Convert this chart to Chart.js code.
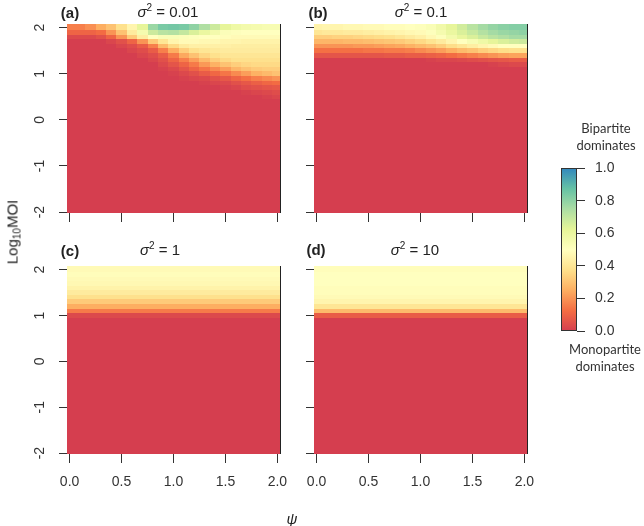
<!DOCTYPE html>
<html>
<head>
<meta charset="utf-8">
<script src="https://cdn.jsdelivr.net/npm/chart.js@4.4.0/dist/chart.umd.min.js"></script>
<style>
  body { margin: 0; background: #fff; width: 644px; height: 526px; position: relative; overflow: hidden;
         font-family: "Liberation Sans", Arial, Helvetica, sans-serif; color: #222; }
  canvas { position: absolute; }
  .t { position: absolute; white-space: nowrap; line-height: 1; transform: translate(-50%, -50%); font-size: 15px; }
  .t b { font-weight: bold; }
  .t sup { font-size: 10px; vertical-align: 6px; line-height: 0; }
  .t sub { font-size: 10px; vertical-align: -3px; line-height: 0; }
  .cb { font-family: Lato, "Open Sans", sans-serif; font-size: 13px; color: #333; }
</style>
</head>
<body>
<canvas id="pa" width="300" height="236" style="left:0;top:0"></canvas>
<canvas id="pb" width="300" height="236" style="left:247px;top:0"></canvas>
<canvas id="pc" width="300" height="252" style="left:0;top:242px"></canvas>
<canvas id="pd" width="300" height="252" style="left:247px;top:242px"></canvas>
<canvas id="bar" width="104" height="200" style="left:540px;top:150px"></canvas>

<div class="t" style="left:70px;top:12px"><b>(a)</b></div>
<div class="t" style="left:168px;top:11px"><i>σ</i><sup>2</sup> = 0.01</div>
<div class="t" style="left:318px;top:12px"><b>(b)</b></div>
<div class="t" style="left:421px;top:11px"><i>σ</i><sup>2</sup> = 0.1</div>
<div class="t" style="left:70px;top:250px"><b>(c)</b></div>
<div class="t" style="left:160px;top:249px"><i>σ</i><sup>2</sup> = 1</div>
<div class="t" style="left:316px;top:249px"><b>(d)</b></div>
<div class="t" style="left:415px;top:249px"><i>σ</i><sup>2</sup> = 10</div>
<div class="t" style="left:12px;top:232px;transform:translate(-50%,-50%) rotate(-90deg)">Log<sub>10</sub>MOI</div>
<div class="t" style="left:292px;top:518px"><i>ψ</i></div>
<div class="t cb" style="left:606px;top:128px">Bipartite</div>
<div class="t cb" style="left:606px;top:145px">dominates</div>
<div class="t cb" style="left:605px;top:349px">Monopartite</div>
<div class="t cb" style="left:605px;top:366px">dominates</div>

<script>
// ψ grid (columns) and tick labels
const psi = [0, 0.1, 0.2, 0.3, 0.4, 0.5, 0.6, 0.7, 0.8, 0.9, 1.0, 1.1, 1.2, 1.3, 1.4, 1.5, 1.6, 1.7, 1.8, 1.9, 2.0];
const psiTicks = [0, 0.5, 1, 1.5, 2];
const moiTicks = [-2, -1, 0, 1, 2];
const barTicks = [0, 0.2, 0.4, 0.6, 0.8, 1.0];

// Log10 MOI rows with something other than "monopartite dominates"; every row below is 0
const rowsA = [2.0, 1.9, 1.8, 1.7, 1.6, 1.5, 1.4, 1.3, 1.2, 1.1, 1.0, 0.9, 0.8, 0.7, 0.6, 0.5];
const valuesA = [
  [.16,.16,.19,.25,.30,.38,.46,.62,.78,.84,.85,.84,.80,.74,.68,.62,.58,.56,.55,.54,.54],
  [.10,.10,.10,.12,.20,.30,.42,.55,.68,.72,.73,.70,.65,.60,.56,.52,.51,.50,.50,.50,.50],
  [.03,.03,.03,.05,.10,.20,.32,.43,.50,.53,.53,.52,.51,.50,.50,.49,.48,.48,.48,.48,.48],
  [0,0,0,0,.02,.05,.10,.20,.32,.40,.46,.48,.48,.47,.47,.46,.46,.45,.45,.45,.45],
  [0,0,0,0,0,.02,.04,.08,.16,.28,.36,.42,.44,.44,.44,.44,.43,.43,.43,.43,.43],
  [0,0,0,0,0,0,.02,.04,.08,.16,.25,.33,.38,.40,.41,.42,.42,.42,.42,.42,.42],
  [0,0,0,0,0,0,0,.02,.04,.08,.15,.24,.30,.35,.38,.40,.40,.40,.40,.40,.40],
  [0,0,0,0,0,0,0,0,.02,.05,.10,.16,.22,.28,.33,.36,.38,.38,.38,.38,.38],
  [0,0,0,0,0,0,0,0,0,.03,.06,.10,.15,.21,.26,.30,.33,.35,.36,.36,.36],
  [0,0,0,0,0,0,0,0,0,.01,.03,.06,.10,.14,.18,.22,.27,.30,.32,.33,.33],
  [0,0,0,0,0,0,0,0,0,0,.01,.03,.05,.08,.11,.14,.18,.22,.26,.28,.30],
  [0,0,0,0,0,0,0,0,0,0,0,.01,.02,.03,.05,.07,.10,.13,.16,.18,.20],
  [0,0,0,0,0,0,0,0,0,0,0,0,0,.01,.02,.03,.05,.07,.09,.11,.12],
  [0,0,0,0,0,0,0,0,0,0,0,0,0,0,0,.01,.02,.04,.05,.06,.07],
  [0,0,0,0,0,0,0,0,0,0,0,0,0,0,0,0,0,.01,.02,.03,.04],
  [0,0,0,0,0,0,0,0,0,0,0,0,0,0,0,0,0,0,0,.01,.02]
];

const rowsB = [2.0, 1.9, 1.8, 1.7, 1.6, 1.5, 1.4, 1.3, 1.2];
const valuesB = [
  [.45,.46,.46,.47,.47,.48,.48,.49,.49,.50,.51,.53,.57,.62,.67,.72,.76,.79,.81,.82,.82],
  [.40,.41,.41,.42,.42,.43,.44,.45,.46,.47,.48,.51,.55,.60,.65,.69,.73,.76,.78,.79,.80],
  [.33,.33,.34,.34,.35,.36,.37,.38,.40,.42,.44,.47,.51,.56,.61,.65,.69,.72,.74,.76,.76],
  [.27,.27,.27,.28,.28,.29,.30,.31,.32,.34,.36,.39,.42,.46,.50,.54,.58,.62,.65,.67,.68],
  [.20,.20,.20,.20,.21,.21,.22,.23,.24,.26,.28,.30,.33,.37,.40,.43,.46,.48,.50,.50,.50],
  [.13,.13,.13,.13,.13,.14,.14,.15,.15,.16,.18,.20,.22,.25,.28,.30,.33,.35,.37,.38,.38],
  [.06,.06,.06,.06,.06,.06,.06,.07,.07,.08,.08,.09,.10,.12,.14,.16,.18,.20,.22,.23,.23],
  [0,0,0,0,0,0,0,0,0,0,0,.01,.02,.02,.03,.04,.05,.06,.07,.08,.08],
  [0,0,0,0,0,0,0,0,0,0,0,0,0,0,0,0,0,.01,.02,.03,.03]
];

// panels (c) and (d) do not change along ψ: one value per row
const rowsC = [2.0, 1.9, 1.8, 1.7, 1.6, 1.5, 1.4, 1.3, 1.2, 1.1, 1.0];
const profileC = [.48, .49, .48, .47, .45, .42, .38, .32, .25, .15, .03];
const rowsD = [2.0, 1.9, 1.8, 1.7, 1.6, 1.5, 1.4, 1.3, 1.2, 1.1, 1.0];
const profileD = [.49, .50, .50, .50, .49, .49, .48, .46, .40, .28, .08];

const spectral = ["#D53E4F", "#F46D43", "#FDAE61", "#FEE08B", "#FFFFBF", "#E6F598", "#ABDDA4", "#66C2A5", "#3288BD"];
const psiMin = -0.025, psiMax = 2.025, moiMin = -2.02, moiMax = 2.08;

Chart.defaults.font.family = "'Liberation Sans', Arial, Helvetica, sans-serif";
Chart.defaults.color = "#222";

function hex(c) { return [1, 3, 5].map(i => parseInt(c.slice(i, i + 2), 16)); }
function colorOf(v) {
  const p = Math.max(0, Math.min(1, v)) * (spectral.length - 1);
  const i = Math.min(Math.floor(p), spectral.length - 2), f = p - i;
  const a = hex(spectral[i]), b = hex(spectral[i + 1]);
  return "rgb(" + a.map((u, k) => Math.round(u + (b[k] - u) * f)).join(",") + ")";
}

// cell edges sit halfway between neighbouring grid values
function edges(vals, lo, hi) {
  return vals.map((v, i) => [
    i === 0 ? lo : (vals[i - 1] + v) / 2,
    i === vals.length - 1 ? hi : (v + vals[i + 1]) / 2
  ]);
}

function gridCells(rows, values) {
  const ex = edges(psi, psiMin, psiMax);
  const ys = rows.slice().reverse();
  const ey = edges(ys, null, moiMax);
  const cells = [];
  // everything under the listed rows is 0
  const floorTop = ys[0] - 0.05;
  cells.push({ x: 1, y: moiMin, x0: psiMin, x1: psiMax, y0: moiMin, y1: floorTop, v: 0 });
  ys.forEach((yv, j) => {
    const row = values[rows.indexOf(yv)];
    const y0 = j === 0 ? floorTop : ey[j][0];
    psi.forEach((xv, i) => {
      cells.push({ x: xv, y: yv, x0: ex[i][0], x1: ex[i][1], y0: y0, y1: ey[j][1], v: row[i] });
    });
  });
  return cells;
}

function profileCells(rows, profile) {
  return gridCells(rows, profile.map(v => psi.map(() => v)));
}

const heatPlugin = {
  id: "heat",
  beforeDatasetsDraw(chart) {
    const { ctx, chartArea: a, scales: { x, y } } = chart;
    ctx.save();
    ctx.beginPath();
    ctx.rect(a.left, a.top, a.right - a.left, a.bottom - a.top);
    ctx.clip();
    chart.data.datasets[0].data.forEach(c => {
      const l = Math.round(x.getPixelForValue(c.x0)), r = Math.round(x.getPixelForValue(c.x1));
      const t = Math.round(y.getPixelForValue(c.y1)), b = Math.round(y.getPixelForValue(c.y0));
      ctx.fillStyle = colorOf(c.v);
      ctx.fillRect(l, t, r - l, b - t);
    });
    ctx.restore();
    ctx.save();
    ctx.strokeStyle = "#222";
    ctx.lineWidth = 1;
    ctx.beginPath();
    ctx.moveTo(Math.round(a.right) + 0.5, a.top);
    ctx.lineTo(Math.round(a.right) + 0.5, a.bottom);
    ctx.stroke();
    ctx.restore();
  }
};

function panel(id, cells, showX, showY) {
  return new Chart(document.getElementById(id), {
    type: "scatter",
    data: { datasets: [{ data: cells, pointRadius: 0, pointHoverRadius: 0 }] },
    options: {
      responsive: false,
      animation: false,
      events: [],
      layout: { padding: { top: 24, right: 20, left: 0, bottom: 0 } },
      plugins: { legend: { display: false }, tooltip: { enabled: false } },
      scales: {
        x: {
          type: "linear", min: psiMin, max: psiMax,
          afterBuildTicks: s => { s.ticks = psiTicks.map(v => ({ value: v })); },
          afterFit: s => { s.height = showX ? 40 : 23; },
          border: { display: false },
          grid: { drawOnChartArea: false, drawTicks: true, tickLength: 9, color: "#333" },
          ticks: { display: showX, padding: 11, font: { size: 14 }, color: "#333", callback: v => v.toFixed(1) }
        },
        y: {
          type: "linear", min: moiMin, max: moiMax,
          afterBuildTicks: s => { s.ticks = moiTicks.map(v => ({ value: v })); },
          afterFit: s => { s.width = 67; },
          border: { display: false },
          grid: { drawOnChartArea: false, drawTicks: true, tickLength: 8, color: "#333" },
          ticks: { display: showY, minRotation: 90, maxRotation: 90, crossAlign: "center", padding: 13,
                   font: { size: 14 }, color: "#333", callback: v => String(v) }
        }
      }
    },
    plugins: [heatPlugin]
  });
}

panel("pa", gridCells(rowsA, valuesA), false, true);
panel("pb", gridCells(rowsB, valuesB), false, false);
panel("pc", profileCells(rowsC, profileC), true, true);
panel("pd", profileCells(rowsD, profileD), true, false);

// colour key
const barPlugin = {
  id: "colourbar",
  beforeDatasetsDraw(chart) {
    const { ctx, chartArea: a, scales: { y } } = chart;
    const top = y.getPixelForValue(1), bot = y.getPixelForValue(0);
    const g = ctx.createLinearGradient(0, bot, 0, top);
    spectral.forEach((c, i) => g.addColorStop(i / (spectral.length - 1), c));
    ctx.save();
    ctx.fillStyle = g;
    ctx.fillRect(a.left, top, a.right - a.left, bot - top);
    ctx.strokeStyle = "#333";
    ctx.lineWidth = 1;
    ctx.strokeRect(Math.round(a.left) + 0.5, Math.round(top) + 0.5, Math.round(a.right - a.left) - 1, Math.round(bot - top) - 1);
    ctx.restore();
  }
};

new Chart(document.getElementById("bar"), {
  type: "scatter",
  data: { datasets: [{ data: [], pointRadius: 0 }] },
  options: {
    responsive: false,
    animation: false,
    events: [],
    layout: { padding: { top: 12, bottom: 19, left: 21, right: 0 } },
    plugins: { legend: { display: false }, tooltip: { enabled: false } },
    scales: {
      x: { type: "linear", display: false, min: 0, max: 1 },
      y: {
        type: "linear", position: "right", min: 0, max: 1,
        afterBuildTicks: s => { s.ticks = barTicks.map(v => ({ value: v })); },
        afterFit: s => { s.width = 67; },
        border: { display: false },
        grid: { drawOnChartArea: false, drawTicks: true, tickLength: 8, color: "#333" },
        ticks: { padding: 10, font: { size: 14 }, color: "#333", callback: v => v.toFixed(1) }
      }
    }
  },
  plugins: [barPlugin]
});
</script>
</body>
</html>
